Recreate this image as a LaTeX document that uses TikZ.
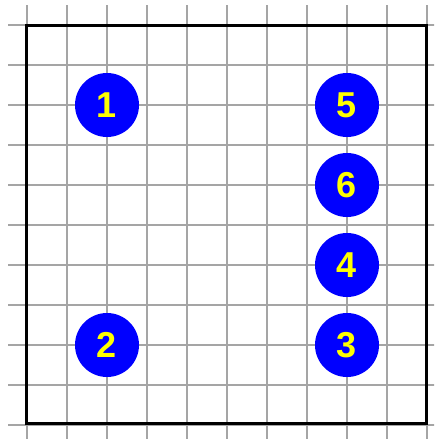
\documentclass[tikz,border=0pt]{standalone}
\usepackage{fontspec}
\setmainfont{Liberation Sans}
\begin{document}
\begin{tikzpicture}[x=1pt,y=-1pt,
  gridline/.style={draw={rgb,255:red,165;green,165;blue,165},line width=2pt},
  frame/.style={draw=black,line width=3pt},
  dot/.style={circle,fill={rgb,255:red,0;green,0;blue,255},minimum size=64pt,inner sep=0pt,
    text={rgb,255:red,255;green,255;blue,0},font=\fontsize{36}{36}\selectfont\bfseries}]
\useasboundingbox (0,0) rectangle (434,439);
\begin{scope}
\clip (0,0) rectangle (434,439);
\foreach \k in {0,...,10}{
  \draw[gridline] ({27+40*\k},5) -- ({27+40*\k},440);
  \draw[gridline] (8,{25+40*\k}) -- (435,{25+40*\k});
}
\end{scope}
\draw[frame] (26,25) rectangle (426,423);
\node[dot] (n1) at (107,105) {1};
\node[dot] (n5) at (347,105) {5};
\node[dot] (n6) at (347,185) {6};
\node[dot] (n4) at (347,265) {4};
\node[dot] (n2) at (107,345) {2};
\node[dot] (n3) at (347,345) {3};
\end{tikzpicture}
\end{document}
